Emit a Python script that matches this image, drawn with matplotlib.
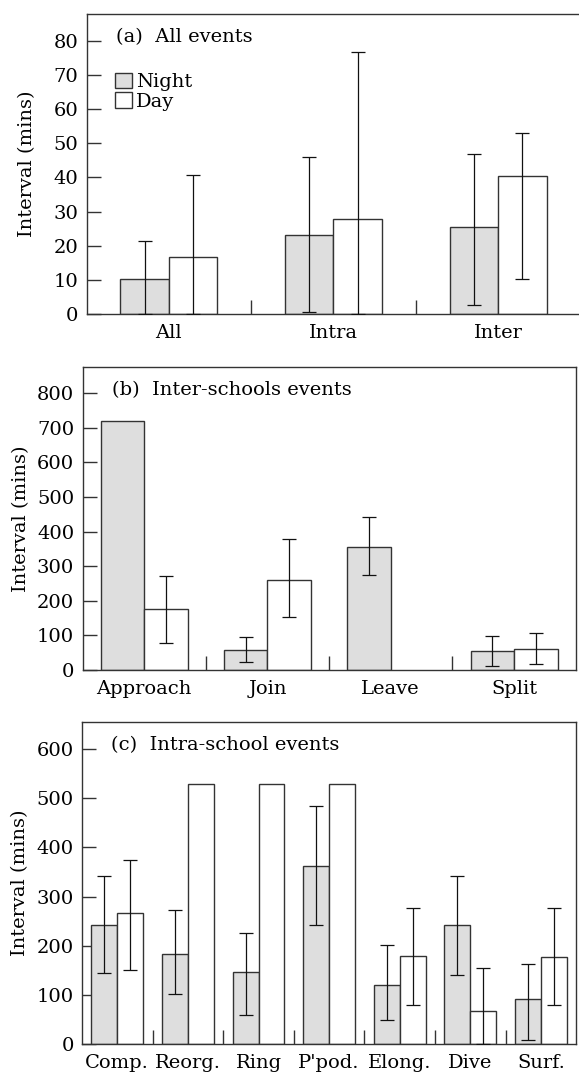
import matplotlib
matplotlib.use("Agg")
import matplotlib.pyplot as plt
from matplotlib.patches import Patch
from matplotlib.ticker import FixedLocator
import numpy as np

plt.rcParams['font.family'] = ['DejaVu Serif']
plt.rcParams['font.size'] = 14

nan = np.nan

# (a) all events
cats_a = ['All', 'Intra', 'Inter']
night_a = [10.2, 23.2, 25.4]
night_a_lo = [0, 0.8, 2.6]
night_a_hi = [21.4, 45.9, 46.8]
day_a = [16.8, 28.0, 40.5]
day_a_lo = [0, 0, 10.2]
day_a_hi = [40.6, 76.8, 53.1]

# (b) inter-school events
cats_b = ['Approach', 'Join', 'Leave', 'Split']
night_b = [720, 59, 357, 54]
night_b_lo = [nan, 22, 275, 11]
night_b_hi = [nan, 94, 443, 99]
day_b = [177, 261, nan, 62]
day_b_lo = [78, 154, nan, 16]
day_b_hi = [271, 378, nan, 108]

# (c) intra-school events
cats_c = ['Comp.', 'Reorg.', 'Ring', "P'pod.", 'Elong.', 'Dive', 'Surf.']
night_c = [242, 183, 146, 362, 121, 243, 93]
night_c_lo = [144, 102, 59, 242, 49, 141, 9.5]
night_c_hi = [343, 272, 227, 484, 202, 343, 164]
day_c = [266, 530, 530, 530, 179, 68, 178]
day_c_lo = [151, nan, nan, nan, 79, 0, 79]
day_c_hi = [375, nan, nan, nan, 276, 156, 276]

NIGHT = '#dedede'
EDGE = '#333333'


def draw_errors(ax, x, vals, lo, hi):
    x = np.asarray(x, float)
    vals = np.asarray(vals, float)
    lo = np.asarray(lo, float)
    hi = np.asarray(hi, float)
    ok = ~np.isnan(lo) & ~np.isnan(vals)
    ax.errorbar(x[ok], vals[ok], yerr=[vals[ok] - lo[ok], hi[ok] - vals[ok]],
                fmt='none', ecolor='#111111', elinewidth=0.9, capsize=4.7,
                capthick=0.9, zorder=3)


def panel(ax, cats, night, nlo, nhi, day, dlo, dhi, width, ylim, ticks, title,
          labelpad=5):
    x = np.arange(len(cats))
    nv = np.asarray(night, float)
    dv = np.asarray(day, float)
    ax.bar(x - width / 2, np.nan_to_num(nv), width, color=NIGHT, edgecolor=EDGE,
           linewidth=1.0, zorder=2)
    has_day = ~np.isnan(dv)
    ax.bar((x + width / 2)[has_day], dv[has_day], width, color='white',
           edgecolor=EDGE, linewidth=1.0, zorder=2)
    draw_errors(ax, x - width / 2, night, nlo, nhi)
    draw_errors(ax, x + width / 2, day, dlo, dhi)

    ax.set_xlim(-0.5, len(cats) - 0.5)
    ax.set_ylim(*ylim)
    ax.set_yticks(ticks)
    ax.set_xticks(x)
    ax.set_xticklabels(cats)
    ax.xaxis.set_minor_locator(FixedLocator(x[:-1] + 0.5))
    ax.tick_params(axis='y', direction='in', length=10, width=1.0,
                   color='#333333', pad=6)
    ax.tick_params(axis='x', which='major', length=0, pad=7)
    ax.tick_params(axis='x', which='minor', direction='in', length=10,
                   width=1.0, color='#333333')
    for s in ax.spines.values():
        s.set_linewidth(1.0)
        s.set_color('#333333')
    ax.set_ylabel('Interval (mins)', labelpad=labelpad)
    ax.annotate(title, xy=(0, 1), xycoords='axes fraction',
                xytext=(29, -23), textcoords='offset pixels',
                ha='left', va='center')


fig = plt.figure(figsize=(5.79, 10.73), dpi=100)
W, H = 579.0, 1073.0


def box(l, r, t, b):
    return [l / W, 1 - b / H, (r - l) / W, (b - t) / H]


ax_a = fig.add_axes(box(86.5, 580.4, 14, 314.3))
ax_b = fig.add_axes(box(82.5, 575.7, 367, 670))
ax_c = fig.add_axes(box(82, 576.3, 722, 1044.3))

panel(ax_a, cats_a, night_a, night_a_lo, night_a_hi, day_a, day_a_lo, day_a_hi,
      0.295, (0, 87.8), range(0, 81, 10), '(a)  All events', labelpad=12.5)
panel(ax_b, cats_b, night_b, night_b_lo, night_b_hi, day_b, day_b_lo, day_b_hi,
      0.353, (0, 876), range(0, 801, 100), '(b)  Inter-schools events')
panel(ax_c, cats_c, night_c, night_c_lo, night_c_hi, day_c, day_c_lo, day_c_hi,
      0.367, (0, 655), range(0, 601, 100), '(c)  Intra-school events')

handles = [Patch(facecolor=NIGHT, edgecolor=EDGE, linewidth=1.0, label='Night'),
           Patch(facecolor='white', edgecolor=EDGE, linewidth=1.0, label='Day')]
ax_a.legend(handles=handles, loc='upper left', bbox_to_anchor=(0.0577, 0.805),
            frameon=False, borderpad=0, borderaxespad=0, handlelength=0.85,
            handleheight=0.85, handletextpad=0.25, labelspacing=0.05)

fig.savefig('out.png', dpi=100)
